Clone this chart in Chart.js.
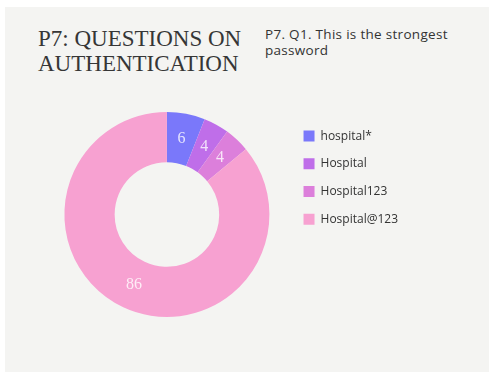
<!DOCTYPE html>
<html>
<head>
<meta charset="utf-8">
<script src="https://cdn.jsdelivr.net/npm/chart.js@4"></script>
<style>
  html, body { margin: 0; padding: 0; background: #ffffff; }
  #page { position: absolute; left: 5px; top: 7px; width: 484px; height: 365px; background: #f4f4f2; }
  #title { position: absolute; left: 38px; top: 26px; font-family: "Liberation Serif", serif; font-size: 23px; line-height: 25px; color: #363636; white-space: nowrap; }
  #subtitle { position: absolute; left: 265px; top: 26px; font-family: "Open Sans", sans-serif; font-size: 13.5px; letter-spacing: 0.3px; line-height: 16px; color: #333; white-space: nowrap; }
  #wrap { position: absolute; left: 0; top: 0; width: 489px; height: 372px; }
</style>
</head>
<body>
<div id="page"></div>
<div id="title">P7: QUESTIONS ON<br>AUTHENTICATION</div>
<div id="subtitle">P7. Q1. This is the strongest<br>password</div>
<div id="wrap"><canvas id="donut"></canvas></div>
<script>
// answers to P7 Q1
const labels = ['hospital*', 'Hospital', 'Hospital123', 'Hospital@123'];
const values = [6, 4, 4, 86];
const colors = ['#7a78fa', '#bf6ee9', '#dc7fdb', '#f7a1d1'];

// draw the value on each slice (no datalabels plugin available offline)
const sliceLabels = {
  id: 'sliceLabels',
  afterDatasetsDraw(chart) {
    const ctx = chart.ctx;
    const meta = chart.getDatasetMeta(0);
    ctx.save();
    ctx.font = '16px "Liberation Serif", serif';
    ctx.fillStyle = 'rgba(255,255,255,0.8)';
    ctx.textAlign = 'center';
    ctx.textBaseline = 'middle';
    meta.data.forEach((arc, i) => {
      const pos = arc.tooltipPosition();
      ctx.fillText(String(values[i]), pos.x, pos.y);
    });
    ctx.restore();
  }
};

new Chart(document.getElementById('donut'), {
  type: 'doughnut',
  data: {
    labels: labels,
    datasets: [{
      data: values,
      backgroundColor: colors,
      borderWidth: 0
    }]
  },
  options: {
    responsive: true,
    maintainAspectRatio: false,
    animation: false,
    cutout: '51%',
    layout: { padding: { top: 112, bottom: 55, left: 46, right: 81 } },
    plugins: {
      tooltip: { enabled: false },
      legend: {
        position: 'right',
        align: 'start',
        title: { display: true, text: '', font: { size: 2 }, padding: 0 },
        labels: {
          boxWidth: 11,
          boxHeight: 11,
          padding: 15.7,
          color: '#333',
          font: { family: '"Open Sans", sans-serif', size: 12 }
        }
      }
    }
  },
  plugins: [sliceLabels]
});
</script>
</body>
</html>
